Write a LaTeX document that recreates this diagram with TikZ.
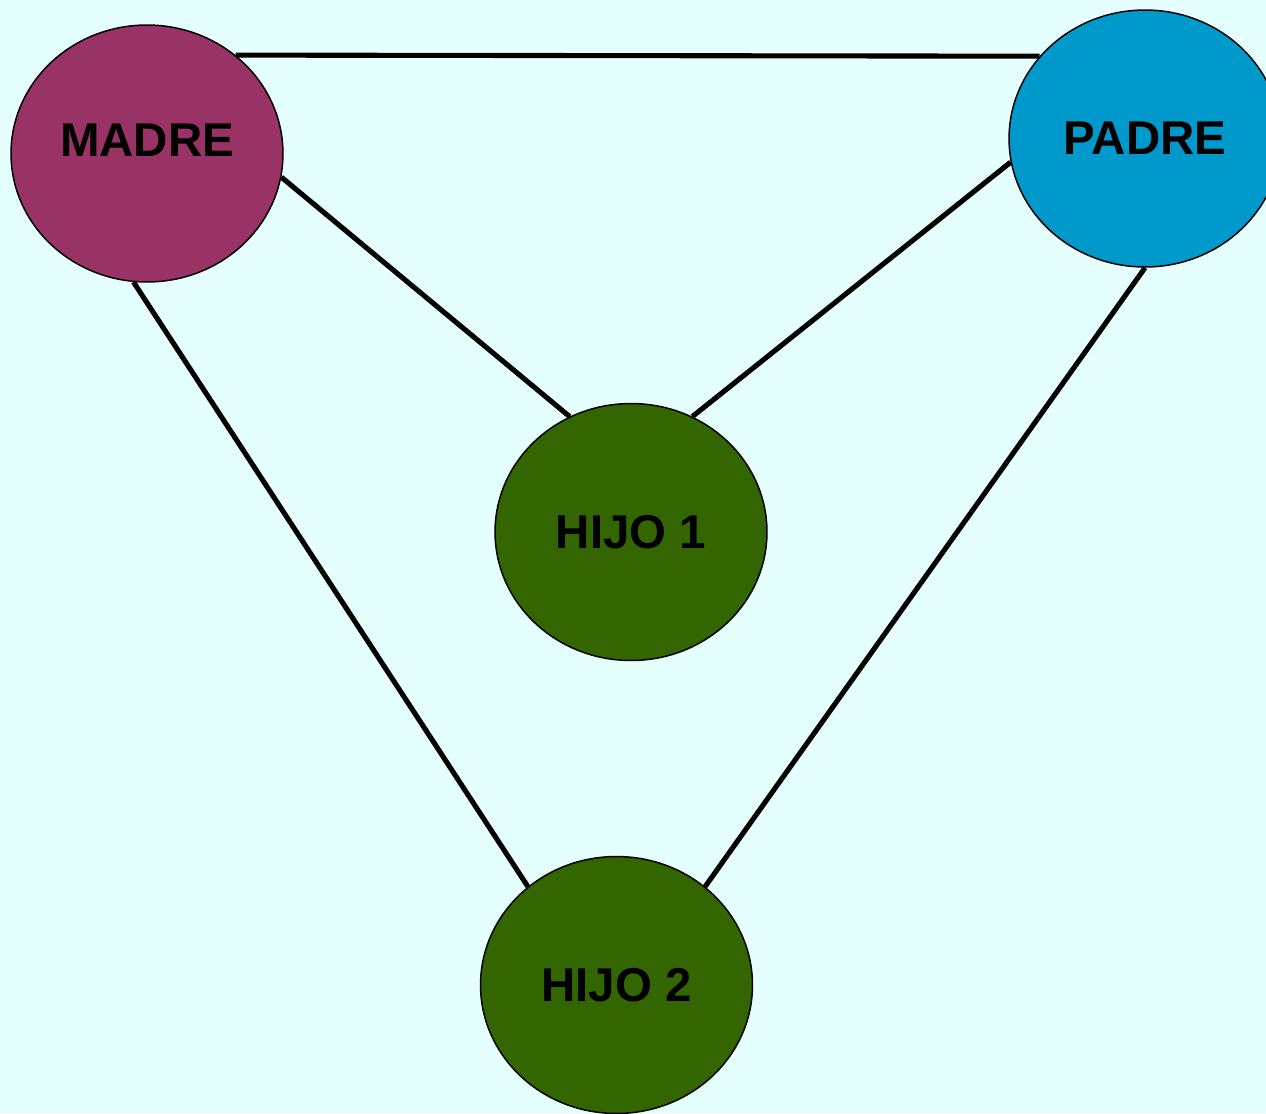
\documentclass[tikz,border=0pt]{standalone}
\usepackage{fontspec}
\setmainfont{Liberation Sans}
\usetikzlibrary{shapes.geometric}

\definecolor{fondo}{HTML}{E5FFFF}
\definecolor{colmadre}{HTML}{993366}
\definecolor{colpadre}{HTML}{0099CC}
\definecolor{colhijo}{HTML}{336600}

\begin{document}
\begin{tikzpicture}[
  x=0.02cm, y=-0.02cm,
  persona/.style={ellipse, draw, line width=0.85pt, minimum width=5.44cm, minimum height=5.14cm,
    inner sep=0pt, font=\fontsize{27}{32}\selectfont\bfseries},
  line/.style={line width=2.9pt}
]
\useasboundingbox (0,0) rectangle (1266,1113);
\fill[fondo] (0,0) rectangle (1266,1113);
\clip (0,0) rectangle (1266,1113);

\node[persona, fill=colmadre, text depth=0.52cm] (madre) at (147,153.5) {MADRE};
\node[persona, fill=colpadre] (padre) at (1145,138.5) {PADRE};
\node[persona, fill=colhijo] (hijo1) at (631,532) {HIJO 1};
\node[persona, fill=colhijo] (hijo2) at (616.5,985) {HIJO 2};

\draw[line] (madre.48) -- (padre.142);
\draw[line] (madre.-10) -- (hijo1.118);
\draw[line] (padre.190) -- (hijo1.62);
\draw[line] (madre.-96) -- (hijo2.132);
\draw[line] (padre.south) -- (hijo2.48);
\end{tikzpicture}
\end{document}
